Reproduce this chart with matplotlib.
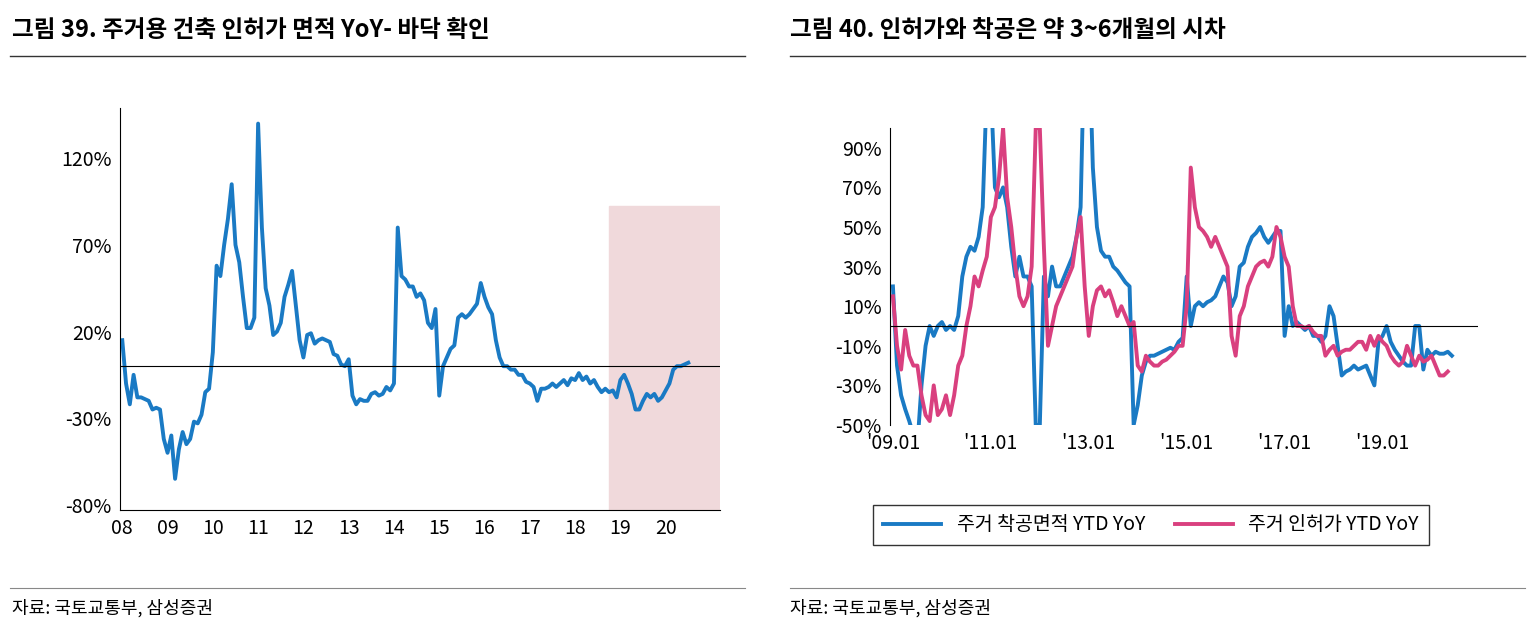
import matplotlib
matplotlib.use("Agg")
import matplotlib.pyplot as plt
import numpy as np

plt.rcParams["font.family"] = ["Noto Sans CJK KR", "Noto Sans CJK JP", "Noto Sans CJK SC", "DejaVu Sans"]

left_start = 2008.0
left_vals = [15, -10, -22, -5, -18, -18, -19, -20, -25, -24, -25, -42,
             -50, -40, -65, -48, -38, -45, -42, -32, -33, -28, -15, -13,
             8, 58, 52, 70, 85, 105, 70, 60, 40, 22, 22, 28,
             140, 80, 45, 35, 18, 20, 25, 40, 47, 55, 35, 15,
             5, 18, 19, 13, 15, 16, 15, 14, 7, 6, 1, 0,
             4, -17, -22, -19, -20, -20, -16, -15, -17, -16, -12, -14,
             -10, 80, 52, 50, 46, 46, 40, 42, 38, 25, 22, 33,
             -17, 0, 5, 10, 12, 28, 30, 28, 30, 33, 36, 48,
             40, 34, 30, 15, 5, 0, 0, -2, -2, -5, -5, -9,
             -10, -12, -20, -13, -13, -12, -10, -12, -10, -8, -11, -7,
             -8, -4, -8, -6, -10, -8, -12, -15, -13, -15, -14, -18,
             -8, -5, -10, -16, -25, -25, -20, -16, -18, -16, -20, -18,
             -14, -10, -2, 0, 0, 1, 2]
left_ticks = ["08", "09", "10", "11", "12", "13", "14", "15", "16", "17", "18", "19", "20"]

right_start = 2009.0
starts_vals = [20, -20, -35, -42, -48, -55, -60, -30, -10, 0, -5, 0,
               2, -2, 0, -2, 5, 25, 35, 40, 38, 45, 60, 120,
               120, 70, 65, 70, 60, 40, 25, 35, 25, 25, 20, -50,
               -50, 25, 15, 30, 20, 20, 25, 30, 35, 45, 60, 150,
               150, 80, 50, 38, 35, 35, 30, 28, 25, 22, 20, -50,
               -40, -25, -18, -15, -15, -14, -13, -12, -11, -12, -8, -6,
               25, 0, 10, 12, 10, 12, 13, 15, 20, 25, 22, 10,
               15, 30, 32, 40, 45, 47, 50, 45, 42, 45, 48, 48,
               -5, 10, 0, 2, 0, -2, 0, -5, -5, -8, -5, 10,
               5, -10, -25, -23, -22, -20, -22, -21, -20, -25, -30, -8,
               -5, 0, -8, -12, -15, -18, -20, -20, 0, 0, -22, -12,
               -15, -13, -14, -14, -13, -15]
permits_vals = [15, -10, -22, -2, -15, -20, -20, -35, -45, -48, -30, -45,
                -42, -35, -45, -35, -20, -15, 0, 10, 25, 20, 28, 35,
                55, 60, 75, 100, 65, 50, 30, 15, 10, 15, 30, 100,
                100, 40, -10, 0, 10, 15, 20, 25, 30, 45, 55, 20,
                -5, 10, 18, 20, 15, 18, 12, 5, 10, 5, 0, 2,
                -20, -23, -15, -18, -20, -20, -18, -17, -15, -13, -10, -10,
                10, 80, 60, 50, 48, 45, 40, 45, 40, 35, 30, -5,
                -15, 5, 10, 20, 25, 30, 32, 33, 30, 35, 50, 45,
                35, 30, 10, 0, 0, -1, 0, -3, -5, -5, -15, -12,
                -10, -15, -13, -12, -12, -10, -8, -8, -12, -5, -10, -5,
                -8, -10, -15, -18, -20, -18, -10, -15, -20, -15, -18, -17,
                -15, -20, -25, -25, -23]
right_ticks = ["'09.01", "'11.01", "'13.01", "'15.01", "'17.01", "'19.01"]

BLUE = "#1a7ac4"
PINK = "#d9407f"
W, H = 1535, 630
fig = plt.figure(figsize=(W / 100, H / 100), dpi=100)

def fx(p): return p / W
def fy(p): return 1 - p / H

fig.text(fx(12), fy(30), "그림 39. 주거용 건축 인허가 면적 YoY- 바닥 확인", fontsize=17, fontweight="bold", va="center")
fig.text(fx(790), fy(30), "그림 40. 인허가와 착공은 약 3~6개월의 시차", fontsize=17, fontweight="bold", va="center")
for x0, x1 in [(10, 745), (790, 1525)]:
    fig.add_artist(plt.Line2D([fx(x0), fx(x1)], [fy(56), fy(56)], color="#333", lw=1))
    fig.add_artist(plt.Line2D([fx(x0), fx(x1)], [fy(588), fy(588)], color="#888", lw=0.8))
fig.text(fx(12), fy(608), "자료: 국토교통부, 삼성증권", fontsize=13, va="center")
fig.text(fx(790), fy(608), "자료: 국토교통부, 삼성증권", fontsize=13, va="center")

ax = fig.add_axes([fx(120), fy(510), fx(720) - fx(120), fy(108) - fy(510)])
xl = left_start + np.arange(len(left_vals)) / 12
ax.plot(xl, left_vals, color=BLUE, lw=2.8)
ax.axhline(0, color="black", lw=0.8)
ax.axvspan(2018.75, 2021.2, ymin=(-84 + 83) / 232, ymax=(92.7 + 83) / 232, color="#f0d9db", zorder=0)
ax.set_ylim(-83, 149)
ax.set_xlim(2007.95, 2021.2)
ax.set_yticks([-80, -30, 20, 70, 120])
ax.set_yticklabels([f"{v}%" for v in [-80, -30, 20, 70, 120]], fontsize=14)
ax.set_xticks(2008 + np.arange(len(left_ticks)))
ax.set_xticklabels(left_ticks, fontsize=14)
ax.tick_params(length=0, pad=6)
for s in ["top", "right"]:
    ax.spines[s].set_visible(False)

ax2 = fig.add_axes([fx(890), fy(425), fx(1478) - fx(890), fy(128) - fy(425)])
xr = right_start + np.arange(len(starts_vals)) / 12
xp = right_start + np.arange(len(permits_vals)) / 12
l1, = ax2.plot(xr, starts_vals, color=BLUE, lw=2.8, label="주거 착공면적 YTD YoY")
l2, = ax2.plot(xp, permits_vals, color=PINK, lw=2.8, label="주거 인허가 YTD YoY")
ax2.axhline(0, color="black", lw=0.8)
ax2.set_ylim(-50, 100)
ax2.set_xlim(2008.94, 2020.95)
yt = [-50, -30, -10, 10, 30, 50, 70, 90]
ax2.set_yticks(yt)
ax2.set_yticklabels([f"{v}%" for v in yt], fontsize=14)
ax2.set_xticks(2009 + 2 * np.arange(len(right_ticks)))
ax2.set_xticklabels(right_ticks, fontsize=14)
ax2.tick_params(length=0, pad=6)
for s in ["top", "right", "bottom"]:
    ax2.spines[s].set_visible(False)
fig.legend(handles=[l1, l2], loc="center", bbox_to_anchor=(fx(1151), fy(525)), ncol=2,
           fontsize=14, frameon=True, fancybox=False, edgecolor="black", handlelength=3,
           columnspacing=1.5, borderpad=0.5)

fig.savefig("out.png", dpi=100)
